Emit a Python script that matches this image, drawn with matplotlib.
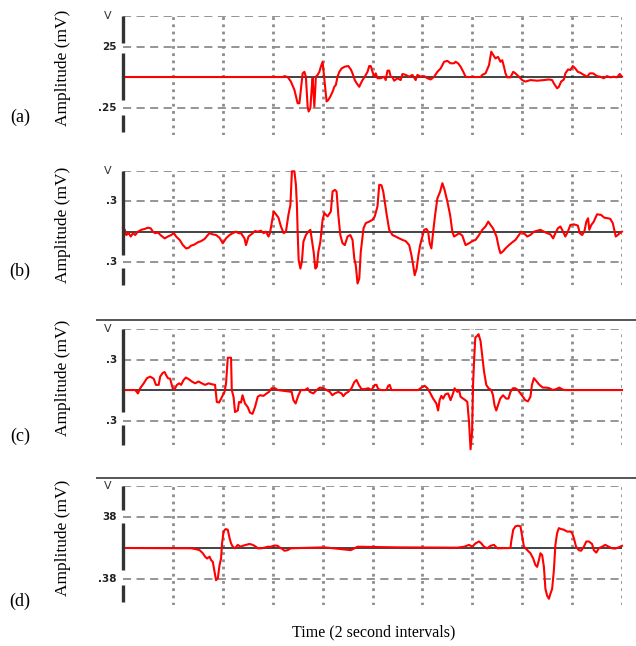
import numpy as np
import matplotlib
matplotlib.use("Agg")
import matplotlib.pyplot as plt
from matplotlib.lines import Line2D

# amplitudes are read in grid divisions, converted with the scale printed on each axis
# (a)
a_t = [0, 6.4, 6.47, 6.6, 6.73, 6.87, 7.0, 7.07, 7.13, 7.2, 7.27, 7.33, 7.4, 7.44, 7.51, 7.56, 7.6,
       7.67, 7.73, 7.8, 7.87, 7.93, 8.0, 8.04, 8.09, 8.16, 8.23, 8.31, 8.4, 8.47, 8.53, 8.6, 8.67,
       8.76, 8.89, 9.03, 9.13, 9.2, 9.29, 9.37, 9.47, 9.53, 9.6, 9.69, 9.8, 9.87, 9.93, 10.0, 10.07,
       10.13, 10.2, 10.33, 10.47, 10.53, 10.6, 10.67, 10.73, 10.8, 10.87, 11.0, 11.13, 11.2, 11.33,
       11.47, 11.6, 11.73, 11.8, 11.93, 12.07, 12.2, 12.33, 12.47, 12.6, 12.73, 12.87, 13.0, 13.13,
       13.27, 13.33, 13.43, 13.53, 13.64, 13.73, 13.8, 14.33, 14.4, 14.53, 14.67, 14.76, 14.84,
       14.93, 15.03, 15.13, 15.2, 15.27, 15.33, 15.4, 15.53, 15.64, 15.73, 15.87, 16.0, 16.13,
       16.33, 16.6, 16.87, 17.07, 17.2, 17.27, 17.4, 17.47, 17.56, 17.67, 17.73, 17.84, 17.93,
       18.03, 18.13, 18.23, 18.33, 18.47, 18.6, 18.71, 18.84, 19.0, 19.13, 19.27, 19.4, 19.53,
       19.67, 19.8, 19.91, 20.0]
a_div = [0, 0, 0.03, 0, -0.15, -0.42, -0.86, -0.86, -0.42, 0.12, 0.17, 0.01, -0.97, -1.13, -1.02,
         -0.42, -0.04, -0.97, 0.01, 0.07, 0.17, 0.34, 0.50, 0.17, -0.21, -0.80, -0.75, -0.64, -0.48,
         -0.32, -0.26, 0.01, 0.17, 0.28, 0.34, 0.36, 0.25, 0.12, -0.10, -0.21, -0.32, -0.21, -0.10,
         0.01, 0.17, 0.36, 0.36, 0.17, 0.01, 0.12, -0.04, -0.04, 0.01, -0.10, 0.21, 0.21, 0.01,
         -0.01, -0.12, -0.04, -0.10, 0.10, 0.07, 0.01, 0.07, -0.10, 0.07, 0.01, 0.03, -0.04, -0.08,
         0.01, 0.17, 0.28, 0.50, 0.53, 0.45, 0.45, 0.50, 0.45, 0.34, 0.17, 0.01, 0, 0, 0.07, 0.12,
         0.39, 0.83, 0.72, 0.61, 0.66, 0.50, 0.55, 0.34, 0.12, -0.01, -0.01, 0.17, 0.12, 0.01,
         -0.10, -0.15, -0.10, -0.12, -0.10, -0.08, -0.10, -0.21, -0.37, -0.32, -0.15, -0.08, 0.12,
         0.25, 0.23, 0.36, 0.28, 0.17, 0.14, 0.07, 0.01, 0.12, 0.12, 0.03, 0.01, -0.04, 0.03,
         -0.01, 0.01, -0.01, 0.10, 0.01]

# (b)
b_t = [0, 0.07, 0.13, 0.23, 0.31, 0.4, 0.49, 0.6, 0.73, 0.87, 1.0, 1.11, 1.2, 1.29, 1.4, 1.53, 1.67,
       1.8, 1.93, 2.04, 2.13, 2.27, 2.4, 2.53, 2.63, 2.73, 2.87, 3.0, 3.13, 3.27, 3.4, 3.47, 3.6,
       3.73, 3.87, 4.0, 4.13, 4.27, 4.4, 4.53, 4.63, 4.73, 4.87, 4.93, 5.03, 5.11, 5.2, 5.29, 5.4,
       5.53, 5.64, 5.73, 5.83, 5.89, 5.96, 6.04, 6.13, 6.23, 6.33, 6.44, 6.53, 6.63, 6.71, 6.77,
       6.87, 6.93, 6.97, 7.0, 7.04, 7.11, 7.17, 7.23, 7.33, 7.43, 7.51, 7.57, 7.64, 7.71, 7.77,
       7.83, 7.91, 8.0, 8.07, 8.2, 8.33, 8.4, 8.49, 8.56, 8.63, 8.71, 8.8, 8.89, 9.0, 9.11, 9.2,
       9.27, 9.33, 9.4, 9.47, 9.53, 9.64, 9.73, 9.87, 10.0, 10.09, 10.2, 10.27, 10.36, 10.43,
       10.49, 10.57, 10.67, 10.8, 10.93, 11.07, 11.2, 11.33, 11.47, 11.56, 11.63, 11.69, 11.77,
       11.84, 11.91, 12.0, 12.07, 12.16, 12.23, 12.29, 12.36, 12.44, 12.51, 12.6, 12.71, 12.8,
       12.89, 13.0, 13.11, 13.2, 13.27, 13.37, 13.47, 13.6, 13.73, 13.87, 14.0, 14.13, 14.27,
       14.4, 14.53, 14.64, 14.73, 14.83, 14.89, 14.97, 15.07, 15.13, 15.24, 15.33, 15.47, 15.6,
       15.73, 15.87, 15.96, 16.07, 16.2, 16.33, 16.47, 16.6, 16.73, 16.87, 17.0, 17.13, 17.24,
       17.33, 17.43, 17.53, 17.64, 17.73, 17.83, 17.93, 18.07, 18.23, 18.31, 18.4, 18.49, 18.57,
       18.64, 18.69, 18.77, 18.87, 19.0, 19.16, 19.29, 19.43, 19.53, 19.63, 19.69, 19.75, 19.83,
       19.91, 20.0]
b_div = [0.15, 0.07, -0.10, -0.04, -0.15, -0.04, -0.10, 0.01, 0.07, 0.10, 0.14, 0.12, 0.01, -0.04,
         -0.02, -0.12, -0.21, -0.15, -0.10, -0.04, -0.15, -0.26, -0.43, -0.54, -0.52, -0.45, -0.41,
         -0.34, -0.30, -0.23, -0.10, -0.04, -0.08, -0.10, -0.19, -0.37, -0.21, -0.10, -0.04, 0.01,
         -0.04, -0.04, -0.21, -0.43, -0.15, -0.10, -0.04, 0.03, 0.01, 0.04, -0.04, 0.01, -0.15,
         -0.04, 0.29, 0.67, 0.58, 0.47, 0.18, -0.04, 0.01, 0.56, 0.89, 1.99, 1.99, 1.55, 0.89, 0.01,
         -0.92, -1.20, -0.98, -0.32, -0.10, 0.01, 0.07, -0.26, -0.65, -1.20, -1.14, -0.65, -0.32,
         0.40, 0.62, 0.51, 0.67, 1.33, 1.38, 1.33, 0.56, -0.10, -0.37, -0.43, -0.15, -0.10, -0.26,
         -0.87, -1.09, -1.69, -1.53, -0.65, 0.12, 0.29, 0.34, 0.40, 0.51, 0.84, 1.55, 1.53, 1.33,
         1.00, 0.56, 0.07, -0.10, -0.15, -0.21, -0.26, -0.30, -0.43, -0.76, -1.09, -1.42, -1.20,
         -0.76, -0.43, -0.15, 0.07, 0.10, 0.01, -0.37, -0.54, 0.07, 0.56, 1.10, 1.32, 1.60, 1.38,
         1.00, 0.56, 0.01, -0.15, -0.10, -0.04, -0.12, -0.43, -0.37, -0.30, -0.26, -0.10, 0.07,
         0.18, 0.34, 0.23, 0.12, 0.01, -0.15, -0.54, -0.70, -0.63, -0.54, -0.43, -0.34, -0.26,
         -0.10, 0.01, -0.04, -0.15, -0.10, 0.01, 0.04, 0.07, 0.01, -0.04, -0.08, -0.21, -0.04, 0.12,
         0.18, 0.01, -0.15, 0.01, 0.23, 0.25, 0.21, -0.04, -0.10, 0.01, 0.34, 0.45, 0.07, 0.23,
         0.34, 0.58, 0.56, 0.47, 0.45, 0.43, 0.29, 0.07, -0.15, -0.10, -0.04, 0.01]

# (c)
c_t = [0, 0.49, 0.6, 0.69, 0.83, 0.96, 1.09, 1.23, 1.32, 1.43, 1.49, 1.59, 1.67, 1.72, 1.8, 1.89,
       1.99, 2.07, 2.16, 2.25, 2.33, 2.43, 2.52, 2.63, 2.76, 2.89, 3.03, 3.16, 3.29, 3.43, 3.56,
       3.69, 3.76, 3.85, 3.93, 4.0, 4.07, 4.13, 4.2, 4.27, 4.33, 4.36, 4.43, 4.49, 4.6, 4.65, 4.73,
       4.79, 4.89, 5.0, 5.09, 5.19, 5.29, 5.4, 5.49, 5.63, 5.76, 5.85, 5.96, 6.09, 6.2, 6.76, 6.83,
       6.92, 7.03, 7.13, 7.29, 7.4, 7.49, 7.63, 7.76, 7.89, 8.03, 8.16, 8.29, 8.39, 8.49, 8.63,
       8.76, 8.83, 8.92, 9.03, 9.16, 9.27, 9.36, 9.45, 9.56, 9.69, 9.83, 9.96, 10.09, 10.16, 10.23,
       10.36, 10.56, 10.63, 10.69, 10.76, 11.83, 11.96, 12.09, 12.2, 12.29, 12.43, 12.56, 12.63,
       12.69, 12.76, 12.83, 12.92, 13.03, 13.13, 13.23, 13.29, 13.4, 13.47, 13.53, 13.63, 13.72,
       13.8, 13.87, 13.93, 13.99, 14.03, 14.07, 14.12, 14.2, 14.25, 14.33, 14.39, 14.47, 14.56,
       14.65, 14.76, 14.83, 14.89, 14.96, 15.03, 15.12, 15.23, 15.36, 15.45, 15.53, 15.63, 15.72,
       15.83, 15.93, 16.03, 16.12, 16.23, 16.33, 16.39, 16.47, 16.56, 16.69, 16.83, 16.96, 17.09,
       17.23, 17.36, 17.49, 17.59, 17.69, 20.0]
c_div = [0, 0, -0.11, 0.06, 0.22, 0.39, 0.44, 0.37, 0.17, 0.17, 0.44, 0.56, 0.59, 0.50, 0.39, 0.37,
         0.06, 0.03, 0.17, 0.22, 0.17, 0.33, 0.41, 0.36, 0.28, 0.22, 0.28, 0.22, 0.17, 0.22, 0.19,
         0.17, -0.39, -0.41, -0.28, -0.17, -0.06, 0.22, 1.06, 1.06, 1.06, 0, -0.22, -0.72, -0.67,
         -0.39, -0.41, -0.17, -0.44, -0.56, -0.74, -0.78, -0.56, -0.22, -0.17, -0.19, -0.11, -0.06,
         0.06, 0.06, 0, -0.06, -0.33, -0.44, -0.17, 0, 0, 0.06, -0.06, -0.11, 0, 0.08, 0.06, 0,
         -0.06, -0.17, -0.11, -0.06, -0.11, -0.20, -0.11, -0.06, 0.06, 0.26, 0.33, 0.17, 0.03, 0.03,
         0.06, 0, 0.17, 0.17, 0.03, 0, 0, 0.14, 0.17, 0, 0, 0.08, 0.14, 0.06, -0.06, -0.28, -0.44,
         -0.67, -0.33, -0.19, -0.28, -0.14, -0.11, -0.33, -0.11, 0.06, -0.06, 0, -0.22, -0.28,
         -0.33, -0.39, -1.06, -1.94, -1.39, 0.17, 0.94, 1.72, 1.78, 1.83, 1.61, 1.17, 0.61, 0.17,
         0.06, 0, -0.17, -0.50, -0.67, -0.50, -0.28, -0.17, -0.28, -0.28, -0.06, 0.06, 0.06, 0,
         -0.11, -0.22, -0.33, -0.37, -0.22, 0.17, 0.39, 0.30, 0.17, 0.08, 0.08, 0.06, 0, 0.03,
         0.08, 0.03, 0, 0]

# (d)
d_t = [0, 2.73, 2.93, 3.07, 3.2, 3.29, 3.37, 3.47, 3.53, 3.6, 3.67, 3.73, 3.8, 3.87, 3.93, 3.97,
       4.03, 4.11, 4.2, 4.27, 4.33, 4.4, 4.49, 4.6, 4.71, 4.8, 4.93, 5.07, 5.2, 5.33, 5.4, 5.53,
       5.67, 5.8, 5.93, 6.07, 6.2, 6.27, 6.4, 6.47, 6.6, 6.73, 8.07, 9.13, 9.4, 11.0, 13.4, 13.67,
       13.87, 14.0, 14.13, 14.27, 14.36, 14.47, 14.6, 14.73, 14.87, 15.0, 15.53, 15.56, 15.64,
       15.73, 15.83, 15.93, 16.0, 16.07, 16.13, 16.23, 16.33, 16.44, 16.53, 16.6, 16.67, 16.73,
       16.8, 16.87, 16.93, 17.0, 17.07, 17.13, 17.2, 17.27, 17.33, 17.4, 17.47, 17.56, 17.67, 17.8,
       17.93, 18.0, 18.07, 18.16, 18.27, 18.36, 18.47, 18.57, 18.67, 18.8, 18.87, 18.97, 19.07,
       19.2, 19.33, 19.47, 19.6, 19.73, 19.87, 20.0]
d_div = [0, -0.01, -0.04, -0.07, -0.17, -0.28, -0.34, -0.28, -0.39, -0.45, -0.77, -1.04, -0.98,
         -0.55, -0.34, 0.15, 0.53, 0.61, 0.59, 0.32, 0.15, 0.04, -0.01, 0.10, 0.04, 0.07, 0.10,
         0.13, 0.10, 0.04, -0.01, -0.01, 0.01, 0.04, 0.04, 0.08, 0.07, 0.02, -0.04, -0.09, -0.07,
         -0.01, 0.02, -0.07, 0.04, 0.02, 0.01, 0.04, 0.10, 0.04, 0.15, 0.21, 0.15, 0.04, -0.01,
         0.07, 0.10, -0.01, 0, 0.21, 0.59, 0.70, 0.72, 0.70, 0.37, 0.04, -0.01, -0.09, -0.17, -0.34,
         -0.55, -0.61, -0.39, -0.17, -0.23, -0.61, -1.32, -1.54, -1.64, -1.48, -1.32, -0.72, 0.10,
         0.48, 0.64, 0.61, 0.59, 0.53, 0.53, 0.48, 0.32, 0.04, -0.07, -0.09, 0.04, 0.21, 0.21,
         0.13, -0.07, -0.15, -0.01, 0.04, 0.10, 0.04, -0.01, -0.02, 0.02, 0.07]

panel_letters = ["(a)", "(b)", "(c)", "(d)"]
mv_per_div = [0.25, 0.3, 0.3, 0.38]
tick_text = [("25", ".25"), (".3", ".3"), (".3", ".3"), ("38", ".38")]
times = [a_t, b_t, c_t, d_t]
divs = [a_div, b_div, c_div, d_div]

W, H = 636, 646
# pixel layout of each panel: top, bottom, lower ylim (in divisions), label y, letter y
layout = [(16, 135, -1.9, 68, 117),
          (171, 285, -1.74, 225, 271),
          (329, 445, -1.8, 378, 436),
          (486, 605, -1.84, 538, 601)]
spine_gaps = [[(2, 1.11), (0.79, -0.75), (-1.25, -1.8)],
              [(2, -0.75), (-1.18, -1.74)],
              [(2, -0.72), (-1.15, -1.8)],
              [(2, 1.23), (0.81, -0.71), (-1.19, -1.74)]]

fig = plt.figure(figsize=(W / 100, H / 100), dpi=100)
serif = "Liberation Serif"
grid_col = "#8c8c8c"

for i in range(4):
    top, bot, ylo, lab_y, let_y = layout[i]
    s = mv_per_div[i]
    ax = fig.add_axes([123 / W, 1 - bot / H, 499 / W, (bot - top) / H])
    ax.set_xlim(0, 20)
    ax.set_ylim(ylo * s, 2 * s)
    for sp in ax.spines.values():
        sp.set_visible(False)
    ax.set_xticks([])
    ax.set_yticks([])

    for yy in (2, 1, -1):
        ax.axhline(yy * s, color=grid_col, lw=1.3, ls=(0, (4.5, 3)), zorder=1)
    for xx in range(2, 21, 2):
        ax.axvline(xx, color=grid_col, lw=2, ls=(0, (1, 1.6)), zorder=1)
    ax.axhline(0, color="#222222", lw=1.2, zorder=2)

    y = np.array(divs[i]) * s
    ax.plot(times[i], y, color="#ff0000", lw=1.5, zorder=3, clip_on=False)

    for y0, y1 in spine_gaps[i]:
        ax.plot([0, 0], [y0 * s, y1 * s], color="#333333", lw=2.4,
                solid_capstyle="butt", clip_on=False, zorder=4)

    up, down = tick_text[i]
    ax.text(-0.25, s, up, ha="right", va="center", fontsize=7.5, color="#222222",
            fontweight="bold")
    ax.text(-0.25, -s, down, ha="right", va="center", fontsize=7.5, color="#222222",
            fontweight="bold")
    ax.text(-0.45, 2 * s, "V", ha="right", va="center", fontsize=8, color="#333333")

    fig.text(63 / W, 1 - lab_y / H, "Amplitude (mV)", rotation=90, ha="center",
             va="center", fontsize=12.5, family=serif)
    fig.text(20 / W, 1 - let_y / H, panel_letters[i], ha="center", va="center",
             fontsize=13, family=serif)

# separator rules above panels (c) and (d)
for yline in (320, 478):
    fig.add_artist(Line2D([97 / W, 1.0], [1 - yline / H, 1 - yline / H],
                          color="#555555", lw=1.4))

fig.text(374 / W, 1 - 632 / H, "Time (2 second intervals)", ha="center", va="center",
         fontsize=11.5, family=serif)

fig.savefig("out.png", dpi=100)
